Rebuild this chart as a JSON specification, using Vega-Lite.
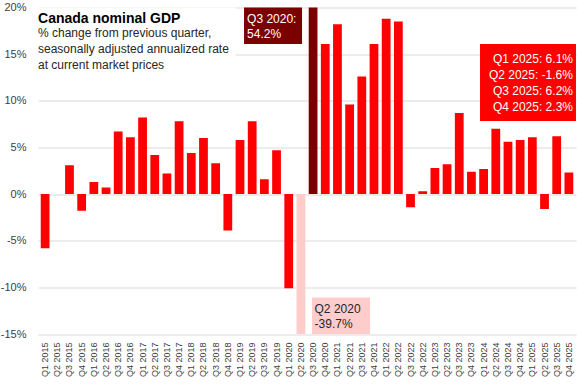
{
  "$schema": "https://vega.github.io/schema/vega-lite/v6.json",
  "width": 538,
  "height": 326.5,
  "autosize": "none",
  "padding": {"left": 38, "top": 7.5, "right": 1, "bottom": 51},
  "background": "white",
  "config": {
    "view": {"stroke": null},
    "font": "Liberation Sans",
    "text": {"font": "Liberation Sans"}
  },
  "datasets": {
    "gdp": [
      {"q": "Q1 2015", "v": -5.8}, {"q": "Q2 2015", "v": 0.0}, {"q": "Q3 2015", "v": 3.1}, {"q": "Q4 2015", "v": -1.8},
      {"q": "Q1 2016", "v": 1.3}, {"q": "Q2 2016", "v": 0.7}, {"q": "Q3 2016", "v": 6.7}, {"q": "Q4 2016", "v": 6.1},
      {"q": "Q1 2017", "v": 8.2}, {"q": "Q2 2017", "v": 4.2}, {"q": "Q3 2017", "v": 2.2}, {"q": "Q4 2017", "v": 7.8},
      {"q": "Q1 2018", "v": 4.4}, {"q": "Q2 2018", "v": 6.0}, {"q": "Q3 2018", "v": 3.3}, {"q": "Q4 2018", "v": -3.9},
      {"q": "Q1 2019", "v": 5.8}, {"q": "Q2 2019", "v": 7.8}, {"q": "Q3 2019", "v": 1.6}, {"q": "Q4 2019", "v": 4.7},
      {"q": "Q1 2020", "v": -10.1}, {"q": "Q2 2020", "v": -39.7}, {"q": "Q3 2020", "v": 54.2}, {"q": "Q4 2020", "v": 16.1},
      {"q": "Q1 2021", "v": 18.2}, {"q": "Q2 2021", "v": 9.6}, {"q": "Q3 2021", "v": 12.6}, {"q": "Q4 2021", "v": 16.1},
      {"q": "Q1 2022", "v": 18.8}, {"q": "Q2 2022", "v": 18.5}, {"q": "Q3 2022", "v": -1.4}, {"q": "Q4 2022", "v": 0.3},
      {"q": "Q1 2023", "v": 2.8}, {"q": "Q2 2023", "v": 3.2}, {"q": "Q3 2023", "v": 8.7}, {"q": "Q4 2023", "v": 2.4},
      {"q": "Q1 2024", "v": 2.7}, {"q": "Q2 2024", "v": 7.0}, {"q": "Q3 2024", "v": 5.6}, {"q": "Q4 2024", "v": 5.8},
      {"q": "Q1 2025", "v": 6.1}, {"q": "Q2 2025", "v": -1.6}, {"q": "Q3 2025", "v": 6.2}, {"q": "Q4 2025", "v": 2.3}
    ]
  },
  "layer": [
    {
      "data": {"name": "gdp"},
      "mark": {"type": "bar", "clip": true},
      "encoding": {
        "x": {
          "field": "q", "type": "nominal", "sort": null, "title": null,
          "scale": {
            "domain": ["Q1 2015","Q2 2015","Q3 2015","Q4 2015","Q1 2016","Q2 2016","Q3 2016","Q4 2016","Q1 2017","Q2 2017","Q3 2017","Q4 2017","Q1 2018","Q2 2018","Q3 2018","Q4 2018","Q1 2019","Q2 2019","Q3 2019","Q4 2019","Q1 2020","Q2 2020","Q3 2020","Q4 2020","Q1 2021","Q2 2021","Q3 2021","Q4 2021","Q1 2022","Q2 2022","Q3 2022","Q4 2022","Q1 2023","Q2 2023","Q3 2023","Q4 2023","Q1 2024","Q2 2024","Q3 2024","Q4 2024","Q1 2025","Q2 2025","Q3 2025","Q4 2025"],
            "paddingInner": 0.28, "paddingOuter": 0.225
          },
          "axis": {
            "labelAngle": -90, "labelFontSize": 9, "labelColor": "#404040", "labelPadding": 8,
            "ticks": false, "domain": false, "grid": false, "labelFont": "Liberation Sans"
          }
        },
        "y": {
          "field": "v", "type": "quantitative", "title": null,
          "scale": {"domain": [-15, 20], "nice": false, "zero": false},
          "axis": {
            "values": [-15, -10, -5, 0, 5, 10, 15, 20],
            "labelExpr": "datum.value + '%'",
            "labelFontSize": 11, "labelColor": "#404040", "labelPadding": 12,
            "ticks": false, "domain": false, "gridColor": "#d9d9d9", "labelFont": "Liberation Sans"
          }
        },
        "color": {
          "condition": [
            {"test": "datum.q === 'Q3 2020'", "value": "#7b0000"},
            {"test": "datum.q === 'Q2 2020'", "value": "#ffcccc"}
          ],
          "value": "#ff0000"
        }
      }
    },
    {
      "data": {"values": [{}]},
      "mark": {"type": "rect", "fill": "white"},
      "encoding": {
        "x": {"datum": "Q1 2015", "type": "nominal", "bandPosition": -0.31},
        "x2": {"datum": "Q1 2019", "bandPosition": 0},
        "y": {"datum": 20, "type": "quantitative"},
        "y2": {"datum": 12.8}
      }
    },
    {
      "data": {"values": [{}]},
      "mark": {"type": "rect", "fill": "#7b0000"},
      "encoding": {
        "x": {"datum": "Q1 2019", "type": "nominal", "bandPosition": 0.96},
        "x2": {"datum": "Q2 2020", "bandPosition": 0.63},
        "y": {"datum": 20, "type": "quantitative"},
        "y2": {"datum": 16.1}
      }
    },
    {
      "data": {"values": [{}]},
      "mark": {"type": "rect", "fill": "#ffcccc"},
      "encoding": {
        "x": {"datum": "Q3 2020", "type": "nominal", "bandPosition": 0.38},
        "x2": {"datum": "Q4 2021", "bandPosition": 0.05},
        "y": {"datum": -11.1, "type": "quantitative"},
        "y2": {"datum": -15}
      }
    },
    {
      "data": {"values": [{}]},
      "mark": {"type": "rect", "fill": "#ff0000"},
      "encoding": {
        "x": {"datum": "Q1 2024", "type": "nominal", "bandPosition": 0.09},
        "x2": {"datum": "Q4 2025", "bandPosition": 1.31},
        "y": {"datum": 16.1, "type": "quantitative"},
        "y2": {"datum": 7.83}
      }
    },
    {
      "data": {"values": [{"label": "Canada nominal GDP"}]},
      "mark": {"type": "text", "align": "left", "baseline": "alphabetic", "fontSize": 14, "fontWeight": "bold", "color": "#000000"},
      "encoding": {
        "x": {"datum": "Q1 2015", "type": "nominal", "bandPosition": -0.31},
        "y": {"datum": 18.39, "type": "quantitative"},
        "text": {"field": "label"}
      }
    },
    {
      "data": {"values": [{"label": "% change from previous quarter,\nseasonally adjusted annualized rate\nat current market prices"}]},
      "mark": {"type": "text", "align": "left", "baseline": "alphabetic", "fontSize": 12, "lineHeight": 16, "lineBreak": "\n", "color": "#262626"},
      "encoding": {
        "x": {"datum": "Q1 2015", "type": "nominal", "bandPosition": -0.31},
        "y": {"datum": 16.89, "type": "quantitative"},
        "text": {"field": "label"}
      }
    },
    {
      "data": {"values": [{"label": "Q3 2020:\n54.2%"}]},
      "mark": {"type": "text", "align": "left", "baseline": "alphabetic", "fontSize": 12, "lineHeight": 15, "lineBreak": "\n", "color": "#ffffff", "dx": 3},
      "encoding": {
        "x": {"datum": "Q1 2019", "type": "nominal", "bandPosition": 0.96},
        "y": {"datum": 18.37, "type": "quantitative"},
        "text": {"field": "label"}
      }
    },
    {
      "data": {"values": [{"label": "Q2 2020\n-39.7%"}]},
      "mark": {"type": "text", "align": "left", "baseline": "alphabetic", "fontSize": 12, "lineHeight": 15, "lineBreak": "\n", "color": "#262626", "dx": 2.5},
      "encoding": {
        "x": {"datum": "Q3 2020", "type": "nominal", "bandPosition": 0.38},
        "y": {"datum": -12.78, "type": "quantitative"},
        "text": {"field": "label"}
      }
    },
    {
      "data": {"values": [{"label": "Q1 2025: 6.1%\nQ2 2025: -1.6%\nQ3 2025: 6.2%\nQ4 2025: 2.3%"}]},
      "mark": {"type": "text", "align": "right", "baseline": "alphabetic", "fontSize": 12, "lineHeight": 16, "lineBreak": "\n", "color": "#ffffff", "dx": -3},
      "encoding": {
        "x": {"datum": "Q4 2025", "type": "nominal", "bandPosition": 1.31},
        "y": {"datum": 14.08, "type": "quantitative"},
        "text": {"field": "label"}
      }
    }
  ]
}
